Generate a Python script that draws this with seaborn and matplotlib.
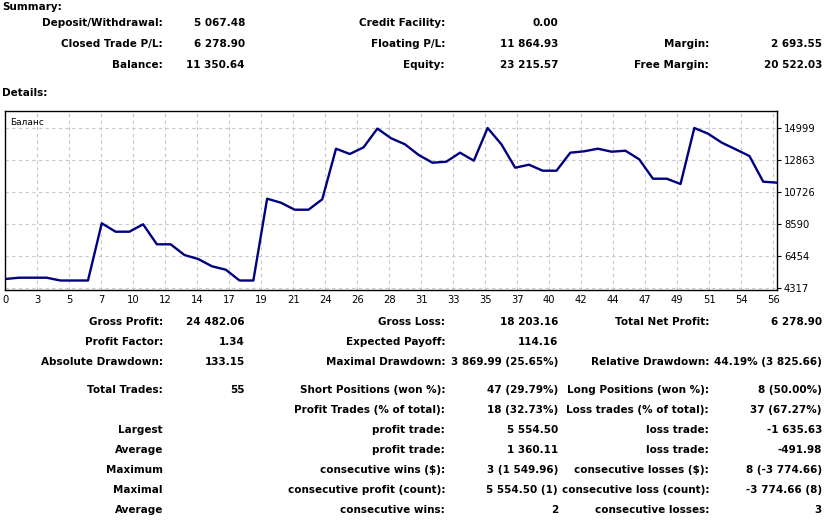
import seaborn as sns
import matplotlib.pyplot as plt
from matplotlib import font_manager

W, H = 833, 520

# Balance curve
trade_idx = list(range(57))
balance = [4918, 5005, 5005, 5005, 4818, 4818, 4818, 8636, 8076, 8076,
           8570, 7234, 7234, 6520, 6253, 5766, 5539, 4818, 4818, 10279,
           10012, 9544, 9544, 10239, 13617, 13263, 13710, 14960, 14311, 13911,
           13196, 12682, 12749, 13350, 12816, 14999, 13911, 12348, 12549, 12148,
           12148, 13350, 13443, 13617, 13417, 13483, 12909, 11614, 11614, 11260,
           14999, 14618, 14017, 13577, 13129, 11414, 11351]

y_ticks = [4317, 6454, 8590, 10726, 12863, 14999]
x_tick_labels = ["0", "3", "5", "7", "10", "12", "14", "17", "19", "21", "24", "26", "28",
                 "31", "33", "35", "37", "40", "42", "44", "47", "49", "51", "54", "56"]

summary_rows = [
    ["Deposit/Withdrawal:", "5 067.48", "Credit Facility:", "0.00", "", ""],
    ["Closed Trade P/L:", "6 278.90", "Floating P/L:", "11 864.93", "Margin:", "2 693.55"],
    ["Balance:", "11 350.64", "Equity:", "23 215.57", "Free Margin:", "20 522.03"],
]
summary_y = [23, 44, 65]

detail_rows = [
    ["Gross Profit:", "24 482.06", "Gross Loss:", "18 203.16", "Total Net Profit:", "6 278.90"],
    ["Profit Factor:", "1.34", "Expected Payoff:", "114.16", "", ""],
    ["Absolute Drawdown:", "133.15", "Maximal Drawdown:", "3 869.99 (25.65%)",
     "Relative Drawdown:", "44.19% (3 825.66)"],
    ["Total Trades:", "55", "Short Positions (won %):", "47 (29.79%)",
     "Long Positions (won %):", "8 (50.00%)"],
    ["", "", "Profit Trades (% of total):", "18 (32.73%)",
     "Loss trades (% of total):", "37 (67.27%)"],
    ["Largest", "", "profit trade:", "5 554.50", "loss trade:", "-1 635.63"],
    ["Average", "", "profit trade:", "1 360.11", "loss trade:", "-491.98"],
    ["Maximum", "", "consecutive wins ($):", "3 (1 549.96)",
     "consecutive losses ($):", "8 (-3 774.66)"],
    ["Maximal", "", "consecutive profit (count):", "5 554.50 (1)",
     "consecutive loss (count):", "-3 774.66 (8)"],
    ["Average", "", "consecutive wins:", "2", "consecutive losses:", "3"],
]
detail_y = [322, 342, 362, 390, 410, 430, 450, 470, 490, 510]

col_right = [163, 245, 445, 558, 709, 822]

sns.set_theme(style="white")
installed = {f.name for f in font_manager.fontManager.ttflist}
main_font = "Liberation Sans Narrow" if "Liberation Sans Narrow" in installed else "DejaVu Sans"
plt.rcParams["font.family"] = [main_font, "DejaVu Sans"]
txt_size = 9.6 if main_font == "Liberation Sans Narrow" else 7.5

fig = plt.figure(figsize=(W / 100, H / 100), dpi=100)
fig.patch.set_facecolor("white")


def put(x, y, s, ha="right", **kw):
    fig.text(x / W, 1 - y / H, s, ha=ha, va="center", fontsize=txt_size,
             fontweight="bold", color="#000000", **kw)


put(2, 7, "Summary:", ha="left")
put(2, 93, "Details:", ha="left")
for row, y in zip(summary_rows, summary_y):
    for s, x in zip(row, col_right):
        if s:
            put(x, y, s)
for row, y in zip(detail_rows, detail_y):
    for s, x in zip(row, col_right):
        if s:
            put(x, y, s)

# chart area
left, top, right, bottom = 5.3, 110.7, 777, 289.7
ax = fig.add_axes([left / W, 1 - bottom / H, (right - left) / W, (bottom - top) / H])
sns.lineplot(x=trade_idx, y=balance, ax=ax, color="#000080", linewidth=1.7)
ax.set_xlim(0, 56)
ax.set_ylim(4204, 16154)

step = 56 * 768 / (right - left) / 24
ax.set_xticks([i * step for i in range(len(x_tick_labels))])
ax.set_xticklabels(x_tick_labels)
ax.set_yticks(y_ticks)
ax.set_yticklabels([str(v) for v in y_ticks])
ax.yaxis.tick_right()
ax.tick_params(axis="both", direction="out", length=3, width=0.8, color="black",
               labelsize=7.2, labelcolor="black")
ax.tick_params(axis="x", pad=0.5)
ax.tick_params(axis="y", pad=2)
for lab in ax.get_xticklabels() + ax.get_yticklabels():
    lab.set_fontfamily(["DejaVu Sans"])
ax.grid(True, color="#c8c8c8", linestyle=(0, (3, 3)), linewidth=0.8)
for sp in ax.spines.values():
    sp.set_color("black")
    sp.set_linewidth(1.0)
ax.set_xlabel("")
ax.set_ylabel("")
ax.text(0.006, 0.96, "Баланс", transform=ax.transAxes, ha="left", va="top",
        fontsize=6.5, family=["DejaVu Sans"], color="black")

fig.savefig("out.png", dpi=100, facecolor="white")
